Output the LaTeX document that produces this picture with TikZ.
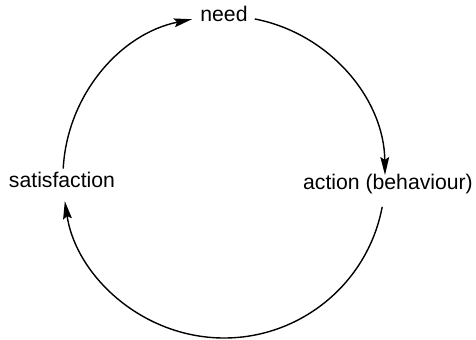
\documentclass[tikz,border=0pt]{standalone}
\usepackage{fontspec}
\setmainfont{Liberation Sans}
\usetikzlibrary{arrows.meta, calc}

\begin{document}
\begin{tikzpicture}[
		x=0.5pt, y=0.5pt,
		font=\fontsize{10.6}{12}\selectfont,
		% Style for the three stages of the cycle
		stage/.style={anchor=base, inner sep=0pt},
		% Style for the arcs of the cycle
		cyclearc/.style={
			line width=0.7pt,
			-{Stealth[length=9pt, width=4.4pt, inset=1.4pt]}
		}
		]
		
		% --- FRAME ---
		\useasboundingbox (0,0) rectangle (476,340);
		
		% --- CENTRE OF THE CYCLE ---
		\coordinate (c) at (224,163);
		\def\rad{161}
		
		% --- STAGES ---
		\node[stage] (need) at (224,318) {need};
		\node[stage] (action) at (388,150) {action (behaviour)};
		\node[stage] (satisf) at (62,152) {satisfaction};
		
		% --- ARCS ---
		% satisfaction -> need
		\draw[cyclearc] ($(c)+(177:\rad)$) arc[start angle=177, end angle=101.5, radius=\rad];
		% need -> action
		\draw[cyclearc] ($(c)+(79:\rad)$) arc[start angle=79, end angle=0.7, radius=\rad];
		% action -> satisfaction
		\draw[cyclearc] ($(c)+(-10.7:\rad)$) arc[start angle=-10.7, end angle=-171.4, radius=\rad];
		
	\end{tikzpicture}
\end{document}
